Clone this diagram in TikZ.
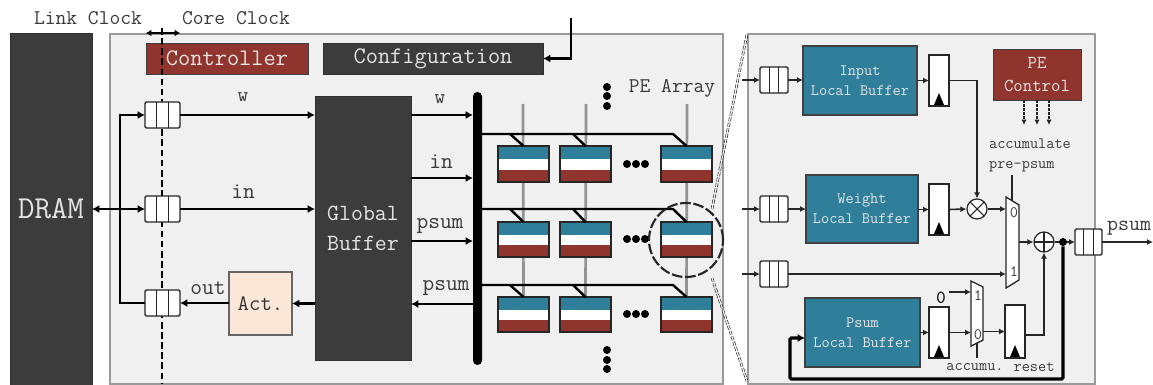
\documentclass[tikz,border=0pt]{standalone}
\usepackage{fontspec}
\renewcommand{\familydefault}{\ttdefault}
\usetikzlibrary{arrows.meta,calc,backgrounds}
\definecolor{darkbox}{HTML}{3C3C3C}
\definecolor{panelbg}{HTML}{F0F0F0}
\definecolor{panelln}{HTML}{9A9A9A}
\definecolor{tealbox}{HTML}{2F7F9A}
\definecolor{redbox}{HTML}{8F352D}
\definecolor{actbox}{HTML}{FBE7D8}
\definecolor{txt}{HTML}{3A3A3A}
\definecolor{lighttxt}{HTML}{E4E4E4}
% \Bx{name}{x1}{y1}{x2}{y2}{style}{text}
\newcommand{\Bx}[7]{%
  \pgfmathsetmacro{\bw}{(#4-#2)*0.75}\pgfmathsetmacro{\bh}{(#5-#3)*0.75}%
  \node[inner sep=0pt,outer sep=0pt,minimum width=\bw pt,minimum height=\bh pt,#6] (#1) at ({(#2+#4)/2},{(#3+#5)/2}) {#7};}
\tikzset{
  x=0.75pt,y=-0.75pt,
  darkfill/.style={draw=darkbox!80!black,fill=darkbox,text=lighttxt},
  panel/.style={draw=panelln,line width=0.9pt,fill=panelbg},
  redfill/.style={draw=black!75,line width=0.7pt,fill=redbox,text=lighttxt},
  tealfill/.style={draw=black!75,line width=0.8pt,fill=tealbox,text=lighttxt,align=center},
  fifo/.style={draw=black!85,line width=1pt,rounded corners=1pt,fill=white,
    path picture={
      \draw[line width=1pt,black!85] ($(path picture bounding box.north)+(-#1,-2)$) -- ($(path picture bounding box.south)+(-#1,2)$);
      \draw[line width=1pt,black!85] ($(path picture bounding box.north)+(#1,-2)$) -- ($(path picture bounding box.south)+(#1,2)$);}},
  latch/.style={draw=black!85,line width=1.1pt,fill=white,
    path picture={\fill[black] ($(path picture bounding box.south)+(-5,-1)$) -- ++(10,0) -- ++(-5,-12) -- cycle;}},
  pe/.style={draw=black!85,line width=0.8pt,fill=white,
    path picture={
      \fill[tealbox] (path picture bounding box.north west) rectangle ($(path picture bounding box.north east)+(0,13)$);
      \fill[redbox] (path picture bounding box.south west) rectangle ($(path picture bounding box.south east)+(0,-12)$);}},
  arr/.style={-{Latex[length=5.5pt,width=6pt]},line width=2pt,black},
  arrthin/.style={-{Latex[length=4.5pt,width=4.5pt]},line width=1.2pt,black!85},
  wire/.style={line width=1.8pt,black},
  wirethin/.style={line width=1.2pt,black!85},
  vgrey/.style={line width=2pt,gray!85},
  lab/.style={inner sep=0pt,text=txt,font=\fontsize{17.1pt}{20pt}\selectfont},
  smalllab/.style={inner sep=0pt,text=txt,font=\fontsize{11.9pt}{15pt}\selectfont,align=left},
  muxlab/.style={inner sep=0pt,text=txt,font=\fontsize{12pt}{14pt}\selectfont},
  dotn/.style={circle,fill=black,inner sep=0pt,minimum size=6pt},
  opn/.style={circle,draw=black!85,line width=0.9pt,fill=white,inner sep=0pt,minimum size=15pt},
  mult/.style={opn,path picture={\draw[line width=0.8pt,black!85] ($(path picture bounding box.center)+(-7,-7)$) -- ++(14,14) ($(path picture bounding box.center)+(7,-7)$) -- ++(-14,14);}},
  plusn/.style={opn,path picture={\draw[line width=0.8pt,black!85] ($(path picture bounding box.center)+(-10,0)$) -- ++(20,0) ($(path picture bounding box.center)+(0,-10)$) -- ++(0,20);}},
  zoomline/.style={black!85,line width=0.5pt,double=white,double distance=0.9pt,dash pattern=on 3pt off 1.2pt},
}
\begin{document}
\begin{tikzpicture}
\useasboundingbox (0,0) rectangle (1153,385);
% panels
\begin{scope}[on background layer]
\Bx{mainp}{110}{34}{723}{384}{panel}{}
\Bx{detailp}{748}{34}{1095}{384}{panel}{}
\end{scope}
\Bx{dram}{10}{33}{92}{385}{darkfill,font=\fontsize{24pt}{27pt}\selectfont}{DRAM}
\Bx{ctrl}{146}{43}{308}{74}{redfill,font=\fontsize{17.8pt}{20pt}\selectfont}{Controller}
\Bx{conf}{323}{43}{543}{74}{darkfill,font=\fontsize{17.8pt}{20pt}\selectfont}{Configuration}
\node[lab,font=\fontsize{15.7pt}{18pt}\selectfont] (lclk) at (88,18) {Link Clock};
\node[lab,font=\fontsize{15.7pt}{18pt}\selectfont] (cclk) at (236,18) {Core Clock};
% clock domain line
\coordinate (clktop) at (162,28);
\coordinate (clkbot) at (162,384);
\draw[line width=0.9pt,black,dash pattern=on 5pt off 2.6pt] (clktop) -- (clkbot);
\coordinate (clkl) at (146,33);
\coordinate (clkr) at (180,33);
\draw[{Latex[length=4pt,width=5pt]}-{Latex[length=4pt,width=5pt]},line width=1.5pt] (clkl) -- (clkr);
% left fifos
\Bx{r1}{145}{102}{180}{128}{fifo=6}{}
\Bx{r2}{145}{196}{180}{222}{fifo=6}{}
\Bx{r3}{145}{290}{180}{316}{fifo=6}{}
\Bx{gb}{315}{96}{411}{360}{darkfill,align=center,font=\fontsize{17.4pt}{22.5pt}\selectfont}{Global\\Buffer}
\Bx{act}{229}{272}{292}{335}{draw=black!60,line width=0.9pt,fill=actbox,text=black!80,font=\fontsize{16.6pt}{18pt}\selectfont}{Act.}
\Bx{bar}{473}{92}{482}{365}{fill=black,rounded corners=3.3pt}{}
% left connectors
\coordinate (busx) at (120,209);
\draw[{Latex[length=5.5pt,width=6pt]}-{Latex[length=5.5pt,width=6pt]},line width=2pt] (dram.east |- r2.west) -- (r2.west);
\draw[arr] (r3.west) -- (busx |- r3.west) -- (busx |- r1.west) -- (r1.west);
\draw[arr] (r1.east) -- (gb.west |- r1.east);
\draw[arr] (r2.east) -- (gb.west |- r2.east);
\draw[arr] (act.west |- r3.east) -- (r3.east);
\draw[arr] (gb.west |- act.east) -- (act.east);
\node[lab,font=\fontsize{15.4pt}{18pt}\selectfont] (lw) at (243,97) {w};
\node[lab] (lin) at (243,192) {in};
\node[lab] (lout) at (208,288) {out};
% config input
\coordinate (cfgin) at (571,18);
\draw[arr] (cfgin) -- (cfgin |- conf.east) -- (conf.east);
% GB to bar
\coordinate (yw) at (440,115);
\coordinate (yi) at (440,178);
\coordinate (yp) at (440,241);
\coordinate (yo) at (440,304);
\draw[arr] (gb.east |- yw) -- (bar.west |- yw);
\draw[arr] (gb.east |- yi) -- (bar.west |- yi);
\draw[arr] (gb.east |- yp) -- (bar.west |- yp);
\draw[arr] (bar.west |- yo) -- (gb.east |- yo);
\node[lab,font=\fontsize{15.4pt}{18pt}\selectfont] (lw2) at (440,99) {w};
\node[lab] (lin2) at (441,162) {in};
\node[lab] (lp1) at (440,226) {psum};
\node[lab] (lp2) at (446,288) {psum};
% PE array
\foreach \r/\ya/\yb in {1/146/182,2/222/257,3/297/332}{
  \foreach \c/\xa/\xb in {1/498/549,2/560/611,3/661/712}{
    \Bx{pe\r\c}{\xa}{\ya}{\xb}{\yb}{pe}{}
  }
}
\coordinate (g1) at (523,104);
\coordinate (g2) at (586,104);
\coordinate (g3) at (687,104);
\begin{scope}[on background layer]
\draw[vgrey] (g1) -- (pe31.north);
\draw[vgrey] (g2) -- (pe32.north);
\draw[vgrey] (g3) -- (pe33.north);
\end{scope}
\foreach \r/\y in {1/134,2/209,3/285}{
  \coordinate (bus\r) at (673,\y);
  \coordinate (tap\r a) at (510,\y);
  \coordinate (tap\r b) at (573,\y);
  \draw[wire,line join=miter] (bar.east |- bus\r) -- (bus\r) -- (pe\r3.north);
  \draw[wire] (tap\r a) -- (pe\r1.north);
  \draw[wire] (tap\r b) -- (pe\r2.north);
}
\foreach \i/\y in {1/87,2/96,3/106}{\node[dotn] (vt\i) at (607,\y) {};}
\foreach \i/\y in {1/350,2/360,3/369}{\node[dotn] (vb\i) at (607,\y) {};}
\foreach \r/\y in {1/164,2/239,3/314}{
  \foreach \i/\x in {1/627,2/636,3/645}{\node[dotn] (hd\r\i) at (\x,\y) {};}
}
\node[lab,font=\fontsize{15.7pt}{18pt}\selectfont] (pearr) at (672,88) {PE Array};
\node[circle,draw=black!85,line width=1.6pt,dash pattern=on 8pt off 2pt,inner sep=0pt,minimum size=55.5pt] (zc) at (686,240) {};
\coordinate (zt) at (747,34);
\coordinate (zb) at (747,381);
\draw[zoomline] (712,209) -- (zt);
\draw[zoomline] (712,278) -- (zb);
% detail: blocks
\Bx{dr1}{760}{67}{788}{93}{fifo=4.7}{}
\Bx{dr2}{760}{196}{788}{222}{fifo=4.7}{}
\Bx{dr3}{760}{261}{788}{287}{fifo=4.7}{}
\Bx{ilb}{803}{46}{917}{115}{tealfill,font=\fontsize{11.9pt}{15pt}\selectfont}{Input\\Local Buffer}
\Bx{wlb}{806}{175}{918}{243}{tealfill,font=\fontsize{11.9pt}{15pt}\selectfont}{Weight\\Local Buffer}
\Bx{plb}{805}{298}{920}{367}{tealfill,font=\fontsize{11.9pt}{15pt}\selectfont}{Psum\\Local Buffer}
\Bx{ctl}{993}{49}{1081}{100}{redfill,align=center,font=\fontsize{13.7pt}{17pt}\selectfont}{PE\\Control}
\Bx{l1}{929}{55}{949}{106}{latch}{}
\Bx{l2}{929}{184}{949}{235}{latch}{}
\Bx{l3}{929}{307}{949}{358}{latch}{}
\Bx{l4}{1005}{305}{1025}{358}{latch}{}
\Bx{dr4}{1075}{229}{1102}{255}{fifo=4.7}{}
\node[mult] (mul) at (977,209) {};
\node[plusn] (add) at (1044,242) {};
% muxes
\Bx{m1}{1006}{197}{1019}{288}{}{}
\Bx{m2}{971}{281}{983}{346}{}{}
\draw[line width=1pt,black!85,fill=white] (m1.north west) -- ($(m1.north east)+(0,8)$) -- ($(m1.south east)+(0,-8)$) -- (m1.south west) -- cycle;
\draw[line width=1pt,black!85,fill=white] (m2.north west) -- ($(m2.north east)+(0,6)$) -- ($(m2.south east)+(0,-6)$) -- (m2.south west) -- cycle;
\node[muxlab] (m1z) at (1014,213) {0};
\node[muxlab] (m1o) at (1014,272) {1};
\node[muxlab] (m2o) at (978,296) {1};
\node[muxlab] (m2z) at (978,335) {0};
% detail: connectors
\coordinate (in1) at (742,80);
\coordinate (in2) at (742,209);
\coordinate (in3) at (742,274);
\draw[arrthin] (in1) -- (dr1.west);
\draw[arrthin] (in2) -- (dr2.west);
\draw[arrthin] (in3) -- (dr3.west);
\draw[arrthin] (dr1.east) -- (ilb.west |- dr1.east);
\draw[arrthin] (dr2.east) -- (wlb.west |- dr2.east);
\draw[arrthin] (dr3.east) -- (m1.west |- dr3.east);
\draw[arrthin] (ilb.east |- l1.west) -- (l1.west);
\draw[arrthin] (wlb.east |- l2.west) -- (l2.west);
\draw[arrthin] (plb.east |- l3.west) -- (l3.west);
\draw[arrthin] (l1.east) -- (mul.north |- l1.east) -- (mul.north);
\draw[arrthin] (l2.east) -- (mul.west);
\draw[arrthin] (mul.east) -- (m1.west |- mul.east);
\draw[arrthin] (m1.east |- add.west) -- (add.west);
\draw[arrthin] (add.east) -- (dr4.west);
\coordinate (pout) at (1153,242);
\draw[arrthin] (dr4.east) -- (pout);
\draw[arrthin] (l3.east) -- (m2.west |- l3.east);
\draw[arrthin] (m2.east |- l4.west) -- (l4.west);
\draw[arrthin] (l4.east |- 1025,335) -- (add.south |- 1025,335) -- (add.south);
\node[inner sep=0pt,font=\bfseries\fontsize{14pt}{16pt}\selectfont,text=black!85] (zero) at (941,298) {0};
\coordinate (zs) at (949,292);
\draw[arrthin] (zs) -- (m2.west |- zs);
\coordinate (m2c) at (977,358);
\draw[wirethin] (m2.south) ++(0,-3) -- (m2c);
\coordinate (m1c) at (1012,175);
\draw[wirethin] (m1c) -- ($(m1.north west)+(6,4)$);
% PE control
\foreach \i/\x in {1/1024,2/1037,3/1049}{
  \coordinate (cb\i) at (\x,125);
  \draw[-{Latex[length=4pt,width=4pt]},line width=0.9pt,black!85,dash pattern=on 2pt off 1pt] (ctl.south -| cb\i) -- (cb\i);
}
% feedback
\node[circle,fill=black,inner sep=0pt,minimum size=6pt] (fb) at (1063,242) {};
\coordinate (fbc) at (1063,379);
\coordinate (fbl) at (790,379);
\draw[-{Latex[length=5.5pt,width=6pt]},line width=2.4pt,black,rounded corners=1pt] (fb) -- (fbc) -- (fbl) -- (fbl |- 803,338) -- (plb.west |- 803,338);
% detail labels
\node[smalllab] (lacc) at (1030,155) {accumulate\\pre-psum};
\node[smalllab] (lam) at (975,367) {accumu.};
\node[smalllab] (lrs) at (1034,367) {reset};
\node[lab,font=\fontsize{16pt}{18pt}\selectfont] (lpo) at (1129,228) {psum};
\end{tikzpicture}
\end{document}
